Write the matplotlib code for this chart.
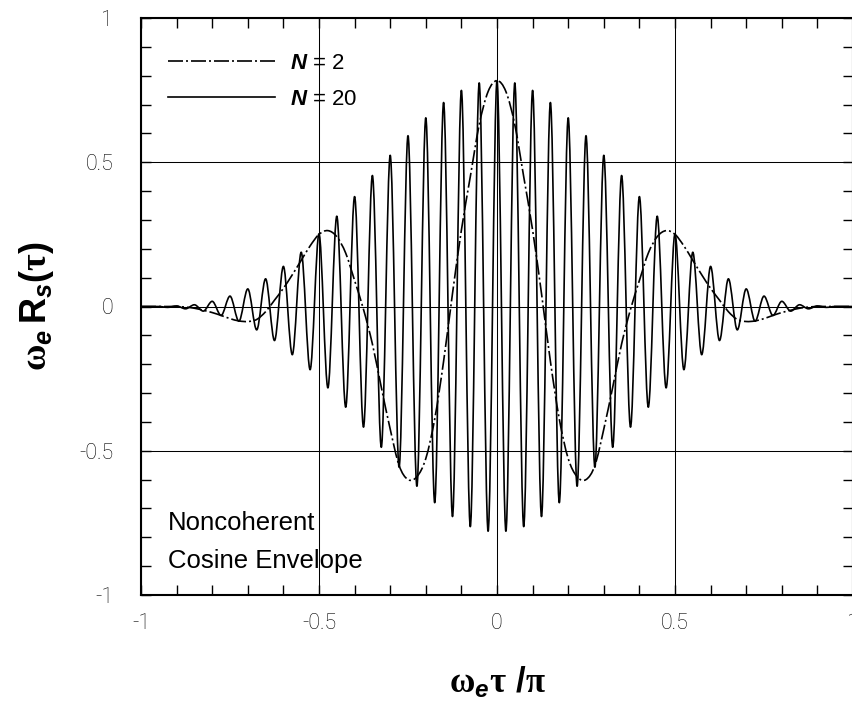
import numpy as np
import matplotlib
matplotlib.use('Agg')
import matplotlib.pyplot as plt
from matplotlib.path import Path
from matplotlib.patches import PathPatch
from matplotlib.lines import Line2D
from matplotlib.ticker import FixedLocator, MultipleLocator
from matplotlib.font_manager import FontProperties

# ---------------- data ----------------
# N = 2 curve, sampled values
tau_n2 = [-1.000, -0.975, -0.950, -0.925, -0.900, -0.875, -0.850, -0.825, -0.800, -0.775,
          -0.750, -0.725, -0.700, -0.675, -0.650, -0.625, -0.600, -0.575, -0.550, -0.525,
          -0.500, -0.475, -0.450, -0.425, -0.400, -0.375, -0.350, -0.325, -0.300, -0.275,
          -0.250, -0.225, -0.200, -0.175, -0.150, -0.125, -0.100, -0.075, -0.050, -0.025,
          0.000,
          0.025, 0.050, 0.075, 0.100, 0.125, 0.150, 0.175, 0.200, 0.225, 0.250,
          0.275, 0.300, 0.325, 0.350, 0.375, 0.400, 0.425, 0.450, 0.475, 0.500,
          0.525, 0.550, 0.575, 0.600, 0.625, 0.650, 0.675, 0.700, 0.725, 0.750,
          0.775, 0.800, 0.825, 0.850, 0.875, 0.900, 0.925, 0.950, 0.975, 1.000]
r_n2 = [0.000, 0.000, 0.000, 0.000, 0.000, -0.002, -0.006, -0.013, -0.021, -0.031,
        -0.042, -0.050, -0.052, -0.045, -0.018, 0.022, 0.063, 0.110, 0.160, 0.210,
        0.250, 0.263, 0.242, 0.185, 0.090, -0.010, -0.130, -0.280, -0.425, -0.551,
        -0.600, -0.590, -0.527, -0.390, -0.190, 0.045, 0.265, 0.450, 0.630, 0.745,
        0.783,
        0.745, 0.630, 0.450, 0.265, 0.045, -0.190, -0.390, -0.527, -0.590, -0.600,
        -0.551, -0.425, -0.280, -0.130, -0.010, 0.090, 0.185, 0.242, 0.263, 0.250,
        0.210, 0.160, 0.110, 0.063, 0.022, -0.018, -0.045, -0.052, -0.050, -0.042,
        -0.031, -0.021, -0.013, -0.006, -0.002, 0.000, 0.000, 0.000, 0.000, 0.000]

# N = 20 curve, its successive peaks and troughs
tau_n20 = [-1.000, -0.950, -0.925, -0.900, -0.875, -0.850, -0.825, -0.800, -0.775, -0.750,
           -0.725, -0.700, -0.675, -0.650, -0.625, -0.600, -0.575, -0.550, -0.525, -0.500,
           -0.475, -0.450, -0.425, -0.400, -0.375, -0.350, -0.325, -0.300, -0.275, -0.250,
           -0.225, -0.200, -0.175, -0.150, -0.125, -0.100, -0.075, -0.050, -0.025,
           0.000,
           0.025, 0.050, 0.075, 0.100, 0.125, 0.150, 0.175, 0.200, 0.225, 0.250,
           0.275, 0.300, 0.325, 0.350, 0.375, 0.400, 0.425, 0.450, 0.475, 0.500,
           0.525, 0.550, 0.575, 0.600, 0.625, 0.650, 0.675, 0.700, 0.725, 0.750,
           0.775, 0.800, 0.825, 0.850, 0.875, 0.900, 0.925, 0.950, 1.000]
r_n20 = [0.000, 0.000, -0.003, 0.002, -0.008, 0.006, -0.016, 0.018, -0.031, 0.036,
         -0.051, 0.061, -0.081, 0.096, -0.118, 0.139, -0.167, 0.188, -0.219, 0.252,
         -0.282, 0.313, -0.349, 0.381, -0.418, 0.454, -0.488, 0.524, -0.557, 0.592,
         -0.623, 0.654, -0.680, 0.707, -0.728, 0.749, -0.763, 0.775, -0.779,
         0.783,
         -0.779, 0.775, -0.763, 0.749, -0.728, 0.707, -0.680, 0.654, -0.623, 0.592,
         -0.557, 0.524, -0.488, 0.454, -0.418, 0.381, -0.349, 0.313, -0.282, 0.252,
         -0.219, 0.188, -0.167, 0.139, -0.118, 0.096, -0.081, 0.061, -0.051, 0.036,
         -0.031, 0.018, -0.016, 0.006, -0.008, 0.002, -0.003, 0.000, 0.000]

x_ticks = [-1, -0.5, 0, 0.5, 1]
x_tick_labels = ['-1', '-0.5', '0', '0.5', '1']
y_ticks = [-1, -0.5, 0, 0.5, 1]
y_tick_labels = ['-1', '-0.5', '0', '0.5', '1']
series_labels = [r'$N$ = 2', r'$N$ = 20']
note_lines = ['Noncoherent', 'Cosine Envelope']

# ---------------- style ----------------
plt.rcParams['font.family'] = ['Liberation Sans', 'DejaVu Sans']
plt.rcParams['mathtext.fontset'] = 'custom'
plt.rcParams['mathtext.rm'] = 'Liberation Sans:bold'
plt.rcParams['mathtext.it'] = 'Liberation Sans:italic:bold'
plt.rcParams['mathtext.bf'] = 'Liberation Sans:bold'
plt.rcParams['mathtext.sf'] = 'Liberation Sans:bold'
plt.rcParams['mathtext.cal'] = 'Liberation Serif:bold'


def extrema_path(x, y):
    """Smooth path through successive extrema (horizontal tangents)."""
    verts = [(x[0], y[0])]
    codes = [Path.MOVETO]
    for i in range(len(x) - 1):
        d = (x[i + 1] - x[i]) / 3.0
        verts += [(x[i] + d, y[i]), (x[i + 1] - d, y[i + 1]), (x[i + 1], y[i + 1])]
        codes += [Path.CURVE4] * 3
    return Path(verts, codes)


def spline_path(x, y):
    """Catmull-Rom spline through the samples, as cubic Bezier segments."""
    n = len(x)
    verts = [(x[0], y[0])]
    codes = [Path.MOVETO]
    for i in range(n - 1):
        i0 = max(i - 1, 0)
        i3 = min(i + 2, n - 1)
        c1 = (x[i] + (x[i + 1] - x[i0]) / 6.0, y[i] + (y[i + 1] - y[i0]) / 6.0)
        c2 = (x[i + 1] - (x[i3] - x[i]) / 6.0, y[i + 1] - (y[i3] - y[i]) / 6.0)
        verts += [c1, c2, (x[i + 1], y[i + 1])]
        codes += [Path.CURVE4] * 3
    return Path(verts, codes)


fig = plt.figure(figsize=(8.52, 7.02), dpi=100)
ax = fig.add_axes([141 / 852, 107 / 702, 712 / 852, 577 / 702])
ax.set_xlim(-1, 1)
ax.set_ylim(-1, 1)

lw_curve = 1.2
dash_n2 = (0, (9, 1.8, 1.2, 1.8))

p20 = PathPatch(extrema_path(tau_n20, r_n20), transform=ax.transData,
                facecolor='none', edgecolor='black', lw=lw_curve,
                joinstyle='round', capstyle='round', zorder=3)
ax.add_patch(p20)
p2 = PathPatch(spline_path(tau_n2, r_n2), transform=ax.transData,
               facecolor='none', edgecolor='black', lw=lw_curve,
               linestyle=dash_n2, zorder=4)
ax.add_patch(p2)

# grid
ax.grid(True, which='major', color='black', lw=0.75, zorder=1)
ax.set_axisbelow(True)

# ticks
ax.xaxis.set_major_locator(FixedLocator(x_ticks))
ax.yaxis.set_major_locator(FixedLocator(y_ticks))
ax.set_xticklabels(x_tick_labels)
ax.set_yticklabels(y_tick_labels)
ax.xaxis.set_minor_locator(MultipleLocator(0.1))
ax.yaxis.set_minor_locator(MultipleLocator(0.1))
ax.tick_params(which='both', direction='in', top=True, right=True,
               length=7.2, width=1.0, color='black')
ax.tick_params(axis='x', which='major', pad=13)
ax.tick_params(axis='y', which='major', pad=20)
tick_font = FontProperties(family='Roboto', weight='light', size=15.5)
for lab in ax.get_xticklabels() + ax.get_yticklabels():
    lab.set_fontproperties(tick_font)
for sp in ax.spines.values():
    sp.set_linewidth(1.5)

# axis labels
ax.set_xlabel(r'$\mathcal{ω}_{e}\mathcal{τ}\ \mathsf{/}\mathcal{π}$', fontsize=25, va='center')
ax.xaxis.set_label_coords(0.5, -(682 - 595) / 577)
ax.set_ylabel(r'$\mathcal{ω}_{e}\,\mathsf{R}_{s}\mathsf{(}\mathcal{τ}\mathsf{)}$', fontsize=26, va='center')
ax.yaxis.set_label_coords(-(141 - 36) / 712, 0.5)

# legend
handles = [Line2D([], [], color='black', lw=lw_curve, linestyle=dash_n2),
           Line2D([], [], color='black', lw=lw_curve)]
leg = ax.legend(handles, series_labels, loc='upper left',
                bbox_to_anchor=((168 - 141) / 712, (595 - 53) / 577),
                frameon=False, fontsize=16, handlelength=4.8, handletextpad=0.68,
                labelspacing=0.66, borderpad=0, borderaxespad=0)

# annotation
ax.text(-0.924, -0.773, note_lines[0], fontsize=18.5, ha='left', va='baseline')
ax.text(-0.924, -0.908, note_lines[1], fontsize=18.5, ha='left', va='baseline')

fig.savefig('out.png', dpi=100)
